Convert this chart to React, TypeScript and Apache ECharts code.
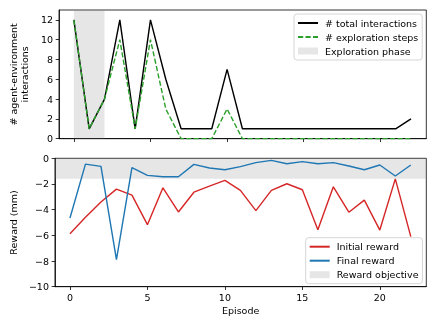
import React, { useEffect, useRef } from "react";
import * as echarts from "echarts";

const episodes = [0, 1, 2, 3, 4, 5, 6, 7, 8, 9, 10, 11, 12, 13, 14, 15, 16, 17, 18, 19, 20, 21, 22];
const totalInteractions = [12, 1, 4, 12, 1, 12, 6, 1, 1, 1, 7, 1, 1, 1, 1, 1, 1, 1, 1, 1, 1, 1, 2];
const explorationSteps = [12, 1, 4, 10, 1, 10, 3, 0, 0, 0, 3, 0, 0, 0, 0, 0, 0, 0, 0, 0, 0, 0, 0];
const initialReward = [-5.87, -4.6, -3.4, -2.4, -2.87, -5.17, -2.3, -4.18, -2.64, -2.17, -1.72, -2.5, -4.07, -2.5, -1.98, -2.45, -5.56, -2.22, -4.2, -3.26, -5.59, -1.6, -6.1];
const finalReward = [-4.65, -0.45, -0.63, -7.9, -0.73, -1.33, -1.44, -1.44, -0.47, -0.76, -0.89, -0.65, -0.34, -0.16, -0.42, -0.26, -0.42, -0.34, -0.6, -0.89, -0.52, -1.38, -0.52];
const explorationPhase = [0, 2];
const rewardObjective = [-1.6, 0];
const xTicks = [0, 5, 10, 15, 20];
const topYTicks = [0, 2, 4, 6, 8, 10, 12];
const bottomYTicks = [-10, -8, -6, -4, -2, 0];

const FONT = "DejaVu Sans";
const FS = 9.5;
const SHADE = "rgba(128,128,128,0.2)";
const LW = 1.42;
const XMIN = -0.97;
const XMAX = 23.0;

const fmt = (v: number) => String(v).replace("-", "\u2212");

export default function App() {
  const ref = useRef<HTMLDivElement>(null);
  useEffect(() => {
    const chart = echarts.init(ref.current!, null, { renderer: "svg" });
    const pairs = (ys: number[]) => episodes.map((x, i) => [x, ys[i]]);
    const axisLine = { show: true, onZero: false, lineStyle: { color: "#000", width: 0.8 } };
    const axisTick = (vals: number[]) => ({
      show: true,
      inside: false,
      length: 3.3,
      lineStyle: { color: "#000", width: 0.8 },
      customValues: vals,
    });
    const axisLabel = (vals: number[], show = true) => ({
      show,
      customValues: vals,
      color: "#000",
      fontSize: FS,
      fontFamily: FONT,
      margin: 6,
      formatter: fmt,
    });
    const hiddenSymbol = { opacity: 0 };
    const legendBase = {
      orient: "vertical" as const,
      itemWidth: 20,
      itemHeight: 7,
      itemGap: 2,
      padding: [3, 4, 3, 3],
      backgroundColor: "rgba(255,255,255,0.8)",
      borderColor: "#cccccc",
      borderWidth: 0.8,
      borderRadius: 3,
      textStyle: { fontSize: FS, fontFamily: FONT, color: "#000", lineHeight: 12, padding: [0, 0, 0, 2] },
      selectedMode: false,
    };
    chart.setOption({
      animation: false,
      textStyle: { fontFamily: FONT },
      grid: [
        { left: 53.3, width: 373, top: 10, height: 128.7, show: true, borderColor: "#000", borderWidth: 0.8, backgroundColor: "transparent" },
        { left: 53.3, width: 373, top: 158.3, height: 128.4, show: true, borderColor: "#000", borderWidth: 0.8, backgroundColor: "transparent" },
      ],
      xAxis: [
        {
          type: "value", gridIndex: 0, min: XMIN, max: XMAX,
          axisLine, axisTick: axisTick(xTicks), axisLabel: axisLabel(xTicks, false), splitLine: { show: false },
        },
        {
          type: "value", gridIndex: 1, min: XMIN, max: XMAX,
          axisLine, axisTick: axisTick(xTicks), axisLabel: { ...axisLabel(xTicks), margin: 5.5 }, splitLine: { show: false },
          name: "Episode", nameLocation: "middle", nameGap: 19,
          nameTextStyle: { fontSize: FS, fontFamily: FONT, color: "#000" },
        },
      ],
      yAxis: [
        {
          type: "value", gridIndex: 0, min: 0, max: 13,
          axisLine, axisTick: axisTick(topYTicks), axisLabel: axisLabel(topYTicks), splitLine: { show: false },
          name: "# agent-environment\ninteractions", nameLocation: "middle", nameGap: 20, nameRotate: 90,
          nameTextStyle: { fontSize: FS, fontFamily: FONT, color: "#000", lineHeight: 11, align: "center" },
        },
        {
          type: "value", gridIndex: 1, min: -10, max: 0,
          axisLine, axisTick: axisTick(bottomYTicks), axisLabel: axisLabel(bottomYTicks), splitLine: { show: false },
          name: "Reward (mm)", nameLocation: "middle", nameGap: 31, nameRotate: 90,
          nameTextStyle: { fontSize: FS, fontFamily: FONT, color: "#000" },
        },
      ],
      legend: [
        {
          ...legendBase,
          left: 294, top: 14,
          data: [
            { name: "# total interactions", itemStyle: hiddenSymbol },
            { name: "# exploration steps", itemStyle: hiddenSymbol },
            { name: "Exploration phase", icon: "rect", itemStyle: { color: SHADE, borderWidth: 0 } },
          ],
        },
        {
          ...legendBase,
          left: 305.7, top: 237.7,
          data: [
            { name: "Initial reward", itemStyle: hiddenSymbol },
            { name: "Final reward", itemStyle: hiddenSymbol },
            { name: "Reward objective", icon: "rect", itemStyle: { color: SHADE, borderWidth: 0 } },
          ],
        },
      ],
      series: [
        {
          name: "Exploration phase", type: "line", xAxisIndex: 0, yAxisIndex: 0, data: [], symbol: "none",
          itemStyle: { color: SHADE }, lineStyle: { width: 0 }, z: 1,
          markArea: {
            silent: true, label: { show: false },
            itemStyle: { color: SHADE, borderWidth: 0 },
            data: [[{ xAxis: explorationPhase[0] }, { xAxis: explorationPhase[1] }]],
          },
        },
        {
          name: "# total interactions", type: "line", xAxisIndex: 0, yAxisIndex: 0, data: pairs(totalInteractions),
          symbol: "none", color: "#000", lineStyle: { color: "#000", width: LW }, z: 3,
        },
        {
          name: "# exploration steps", type: "line", xAxisIndex: 0, yAxisIndex: 0, data: pairs(explorationSteps),
          symbol: "none", color: "#2ca02c", lineStyle: { color: "#2ca02c", width: LW, type: [5.2, 2.3] }, z: 4,
        },
        {
          name: "Reward objective", type: "line", xAxisIndex: 1, yAxisIndex: 1, data: [], symbol: "none",
          itemStyle: { color: SHADE }, lineStyle: { width: 0 }, z: 1,
          markArea: {
            silent: true, label: { show: false },
            itemStyle: { color: SHADE, borderWidth: 0 },
            data: [[{ yAxis: rewardObjective[0] }, { yAxis: rewardObjective[1] }]],
          },
        },
        {
          name: "Initial reward", type: "line", xAxisIndex: 1, yAxisIndex: 1, data: pairs(initialReward),
          symbol: "none", color: "#d62728", lineStyle: { color: "#d62728", width: LW }, z: 3,
        },
        {
          name: "Final reward", type: "line", xAxisIndex: 1, yAxisIndex: 1, data: pairs(finalReward),
          symbol: "none", color: "#1f77b4", lineStyle: { color: "#1f77b4", width: LW }, z: 4,
        },
      ],
    });
    return () => chart.dispose();
  }, []);
  return <div ref={ref} style={{ position: "fixed", left: 0, top: 0, width: 436, height: 327 }} />;
}
